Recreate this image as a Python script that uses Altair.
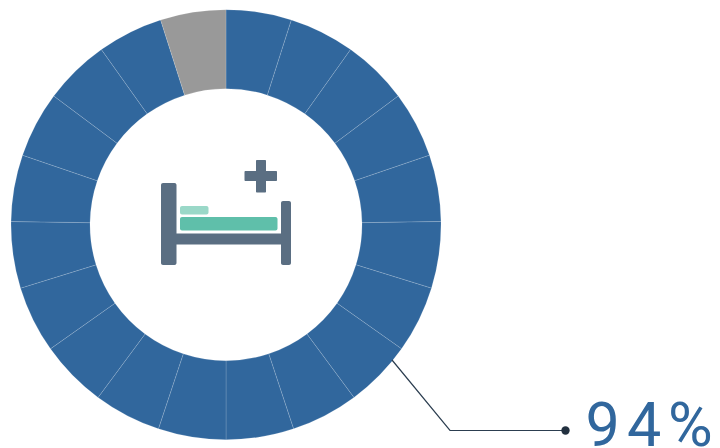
import altair as alt
import pandas as pd

# Ring of twenty segments, the last one unfilled; spans are in degrees
segment_ids = list(range(20))
segment_span = [17.7, 17.7, 17.8, 17.9, 18.0, 18.0, 18.1, 18.2, 18.2, 18.3,
                18.3, 18.2, 18.2, 18.1, 18.0, 18.0, 17.9, 17.8, 17.7, 17.7]
segment_status = ["filled"] * 19 + ["empty"]
status_names = ["filled", "empty"]
status_colors = ["#31679d", "#999999"]

# Bed icon parts: left, right, top, bottom, corner radius, colour
icon_names = ["post_left", "post_right", "frame", "mattress", "pillow", "plus_v", "plus_h"]
icon_x1 = [161, 281, 176, 180, 180, 256, 244.5]
icon_x2 = [176.5, 291, 281, 277.5, 208.5, 266, 277]
icon_y1 = [183, 201, 233.5, 217, 206, 160, 171]
icon_y2 = [265, 265, 244.5, 230.5, 214.5, 192.5, 181]
icon_radius = [2, 2, 0, 2, 2, 1, 1]
icon_colors = ["#5a6e82", "#5a6e82", "#5a6e82", "#5fbfaa", "#9ad8c8", "#5a6e82", "#5a6e82"]

# Leader line from the ring to the percentage label
leader_x = [392, 450, 565.5]
leader_y = [360, 430.5, 430.5]
leader_order = [0, 1, 2]

# The label is set glyph by glyph to give it wide tracking
label_glyphs = ["9", "4", "%"]
label_x = [585.5, 627, 668]
label_y = [446, 446, 446]

WIDTH, HEIGHT = 720, 448
x_scale = alt.Scale(domain=[0, WIDTH], range=[0, WIDTH], nice=False, zero=False)
y_scale = alt.Scale(domain=[0, HEIGHT], range=[0, HEIGHT], nice=False, zero=False)

segments = pd.DataFrame({"id": segment_ids, "span": segment_span, "status": segment_status})
ring = (
    alt.Chart(segments)
    .mark_arc(x=226, y=224.7, innerRadius=136, outerRadius=215,
              stroke="#ffffff", strokeWidth=0.5, strokeOpacity=0.3)
    .encode(
        theta=alt.Theta("span:Q", stack=True),
        order=alt.Order("id:Q"),
        color=alt.Color("status:N", scale=alt.Scale(domain=status_names, range=status_colors), legend=None),
    )
)

icon_layers = []
for name, x1, x2, y1, y2, radius, colour in zip(
    icon_names, icon_x1, icon_x2, icon_y1, icon_y2, icon_radius, icon_colors
):
    part = pd.DataFrame({"name": [name], "x1": [x1], "x2": [x2], "y1": [y1], "y2": [y2]})
    icon_layers.append(
        alt.Chart(part)
        .mark_rect(color=colour, cornerRadius=radius)
        .encode(
            x=alt.X("x1:Q", scale=x_scale, axis=None),
            x2="x2:Q",
            y=alt.Y("y1:Q", scale=y_scale, axis=None),
            y2="y2:Q",
        )
    )

leader = pd.DataFrame({"x": leader_x, "y": leader_y, "o": leader_order})
leader_line = (
    alt.Chart(leader)
    .mark_line(color="#2c3e50", strokeWidth=1.2)
    .encode(
        x=alt.X("x:Q", scale=x_scale, axis=None),
        y=alt.Y("y:Q", scale=y_scale, axis=None),
        order="o:Q",
    )
)
leader_dot = (
    alt.Chart(leader.tail(1))
    .mark_circle(color="#22303f", opacity=1, size=70)
    .encode(
        x=alt.X("x:Q", scale=x_scale, axis=None),
        y=alt.Y("y:Q", scale=y_scale, axis=None),
    )
)

label = (
    alt.Chart(pd.DataFrame({"x": label_x, "y": label_y, "t": label_glyphs}))
    .mark_text(align="left", baseline="alphabetic", font="Roboto", fontSize=61,
               color="#31679d")
    .encode(
        x=alt.X("x:Q", scale=x_scale, axis=None),
        y=alt.Y("y:Q", scale=y_scale, axis=None),
        text="t:N",
    )
)

chart = (
    alt.layer(ring, *icon_layers, leader_line, leader_dot, label)
    .resolve_scale(color="independent")
    .properties(width=WIDTH, height=HEIGHT, padding=0, autosize=alt.AutoSizeParams(type="none"),
                view=alt.ViewBackground(strokeWidth=0, strokeOpacity=0))
    .configure_view(strokeWidth=0, strokeOpacity=0)
    .configure(background="#ffffff")
)

chart.save("out.html", embed_options={"renderer": "svg", "actions": False})
